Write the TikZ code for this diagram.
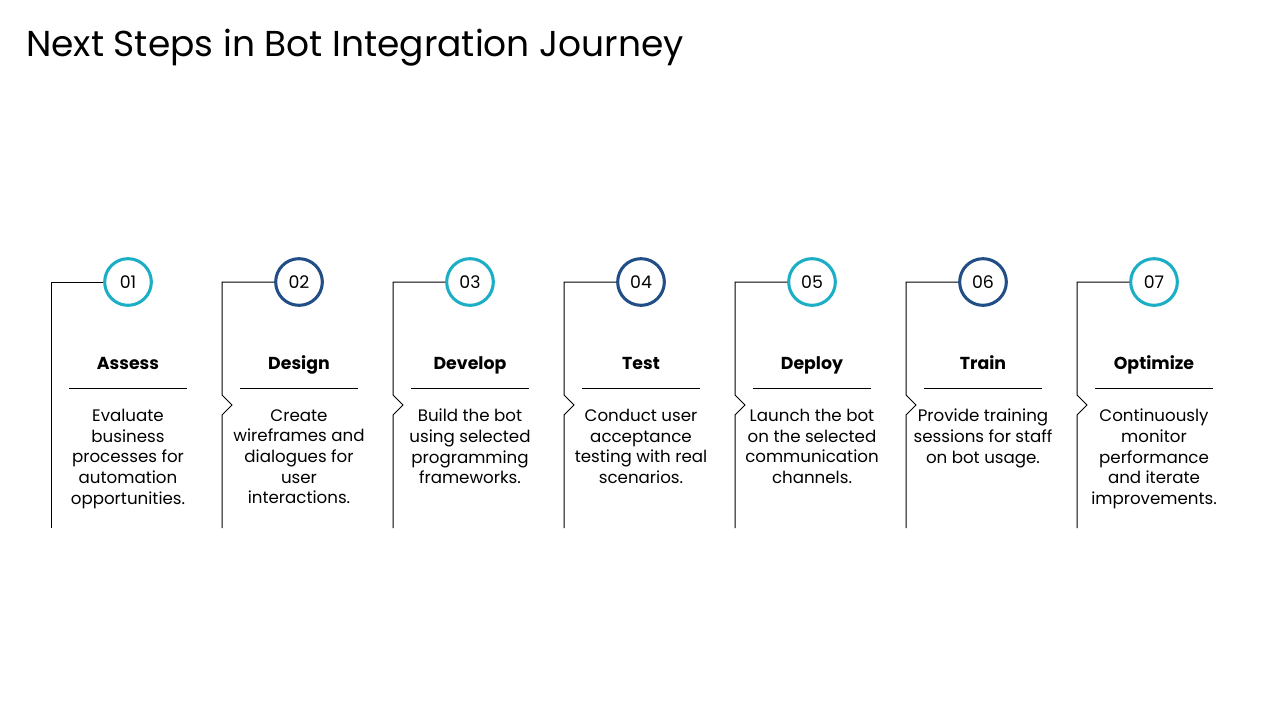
\documentclass[tikz,border=0pt]{standalone}
\usepackage{fontspec}
\setmainfont{Poppins}
\definecolor{stepteal}{RGB}{28,174,196}
\definecolor{stepnavy}{RGB}{33,78,134}
\tikzset{
  stepcircle/.style={circle, draw=#1, line width=2.3pt, minimum size=35pt, inner sep=0pt,
    font=\fontsize{13}{15}\selectfont},
  steptitle/.style={anchor=base, inner sep=0pt, font=\bfseries\fontsize{13}{15}\selectfont},
  stepdesc/.style={align=center, anchor=north, inner sep=0pt,
    font=\fontsize{12.5}{15.5}\selectfont},
  frameline/.style={line width=0.75pt, black}
}
\begin{document}
\begin{tikzpicture}[x=0.75pt,y=-0.75pt]
  \useasboundingbox (0,0) rectangle (1280,720);

  % title
  \node[anchor=west, inner sep=0pt, font=\fontsize{27}{32}\selectfont] (title) at (26,48)
    {Next Steps in Bot Integration Journey};

  % seven steps
  \foreach \i/\num/\col/\ttl/\desc in {
    1/01/stepteal/Assess/{Evaluate\\business\\processes for\\automation\\opportunities.},
    2/02/stepnavy/Design/{Create\\wireframes and\\dialogues for\\user\\interactions.},
    3/03/stepteal/Develop/{Build the bot\\using selected\\programming\\frameworks.},
    4/04/stepnavy/Test/{Conduct user\\acceptance\\testing with real\\scenarios.},
    5/05/stepteal/Deploy/{Launch the bot\\on the selected\\communication\\channels.},
    6/06/stepnavy/Train/{Provide training\\sessions for staff\\on bot usage.},
    7/07/stepteal/Optimize/{Continuously\\monitor\\performance\\and iterate\\improvements.}}{
    \pgfmathsetmacro{\xl}{51+171*(\i-1)}
    \pgfmathsetmacro{\xc}{\xl+77}
    \node[stepcircle=\col] (c\i) at (\xc,282) {\num};
    \node[steptitle] (t\i) at (\xc,369) {\ttl};
    \node[stepdesc] (d\i) at (\xc,409) {\desc};
    % frame line
    \coordinate (top\i) at (\xl,282);
    \coordinate (bot\i) at (\xl,528);
    \coordinate (na\i) at (\xl,395);
    \coordinate (nb\i) at (\xl+10,405);
    \coordinate (nc\i) at (\xl,415);
    \ifnum\i=1
      \draw[frameline] (c\i.west) -- (top\i) -- (bot\i);
    \else
      \draw[frameline] (c\i.west) -- (top\i) -- (na\i) -- (nb\i) -- (nc\i) -- (bot\i);
    \fi
    % rule under title
    \coordinate (rl\i) at (\xc-59,388);
    \coordinate (rr\i) at (\xc+59,388);
    \draw[frameline] (rl\i) -- (rr\i);
  }
\end{tikzpicture}
\end{document}
